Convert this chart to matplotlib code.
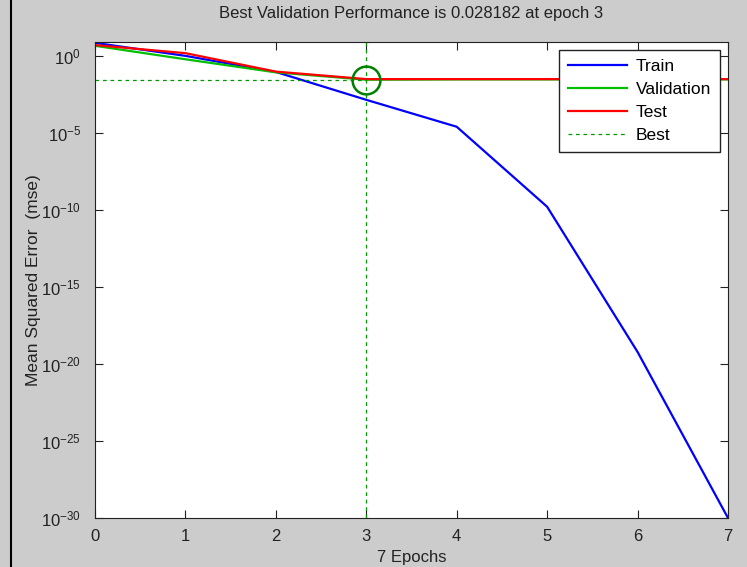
import matplotlib.pyplot as plt
from matplotlib.lines import Line2D

plt.rcParams['font.family'] = ['Liberation Sans', 'DejaVu Sans']

epochs = [0, 1, 2, 3, 4, 5, 6, 7]
train = [7.0, 1.0, 0.09, 1.4e-3, 2.5e-5, 1.6e-10, 6e-20, 1e-30]
validation = [4.5, 0.6, 0.085, 0.028182, 0.0295, 0.0295, 0.0295, 0.0295]
test = [5.0, 1.5, 0.095, 0.031, 0.031, 0.031, 0.031, 0.031]
best_epoch = 3
best_val = 0.028182
ytick_exp = [0, -5, -10, -15, -20, -25, -30]

fig = plt.figure(figsize=(7.47, 5.67), dpi=100)
fig.patch.set_facecolor('#cccccc')
ax = fig.add_axes([95 / 747, 1 - 518 / 567, 633 / 747, 476 / 567])

ax.semilogy(epochs, train, color='#0000ff', lw=1.6, label='Train')
ax.semilogy(epochs, validation, color='#00c000', lw=1.6, label='Validation')
ax.semilogy(epochs, test, color='#ff0000', lw=1.6, label='Test')
ax.plot([0, best_epoch], [best_val, best_val], color='#009900', lw=0.9,
        ls=(0, (3, 3)), label='Best')
ax.axvline(best_epoch, color='#009900', lw=0.9, ls=(0, (3, 3)))
ax.plot([best_epoch], [best_val], 'o', mfc='none', mec='#008000', mew=1.8, ms=20)

ax.set_xlim(0, 7)
ax.set_ylim(1e-30, 10 ** 0.9)
ax.set_xticks(epochs)
ax.set_yticks([10.0 ** e for e in ytick_exp])
ax.set_yticklabels([f'$\\mathregular{{10^{{{e}}}}}$' for e in ytick_exp])
ax.minorticks_off()
ax.tick_params(direction='in', top=True, right=True, length=6, labelsize=12,
               colors='#222222')
ax.tick_params(axis='x', pad=8)
ax.tick_params(axis='y', pad=10)
for s in ax.spines.values():
    s.set_color('#222222')

ax.set_title('Best Validation Performance is 0.028182 at epoch 3', fontsize=12,
             color='#222222', pad=17)
ax.set_xlabel('7 Epochs', fontsize=12, color='#222222', labelpad=4)
ax.set_ylabel('Mean Squared Error  (mse)', fontsize=12.5, color='#222222', labelpad=0)

leg = ax.legend(loc='upper right', bbox_to_anchor=(0.987, 0.983), fontsize=12.5,
                fancybox=False, framealpha=1, edgecolor='#222222',
                handlelength=3.4, borderaxespad=0, labelspacing=0.45,
                handletextpad=0.5, borderpad=0.5)
leg.get_frame().set_linewidth(1.0)

fig.add_artist(Line2D([10.5 / 747, 10.5 / 747], [0, 1], color='black', lw=1.5,
                      transform=fig.transFigure))

fig.savefig('out.png', dpi=100, facecolor=fig.get_facecolor())
